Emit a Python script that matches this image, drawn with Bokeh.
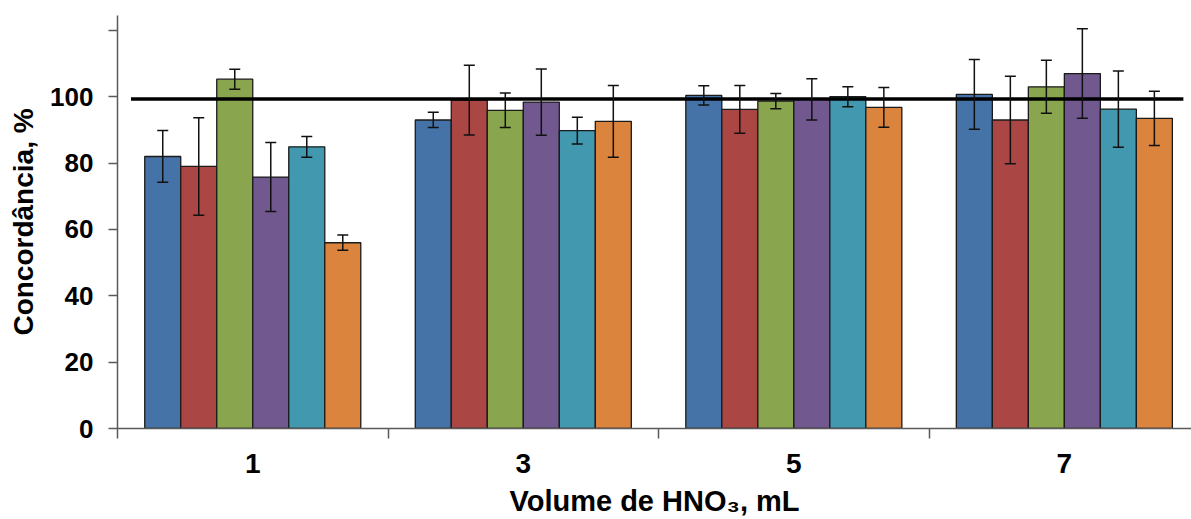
from bokeh.plotting import figure
from bokeh.models import Range1d, FixedTicker, ColumnDataSource, Whisker, TeeHead
from bokeh.embed import file_html
from bokeh.resources import INLINE

categories = ["1", "3", "5", "7"]
series_colors = ["#4572A7", "#AA4643", "#89A54E", "#71588F", "#4198AF", "#DB843D"]

s1_vals = [82.0, 93.0, 100.4, 100.7]
s1_err = [7.8, 2.3, 2.9, 10.5]
s2_vals = [79.0, 99.0, 96.2, 93.0]
s2_err = [14.7, 10.5, 7.2, 13.2]
s3_vals = [105.3, 95.9, 98.7, 103.0]
s3_err = [3.0, 5.2, 2.3, 8.0]
s4_vals = [75.8, 98.4, 99.2, 107.0]
s4_err = [10.4, 10.0, 6.2, 13.5]
s5_vals = [84.9, 89.8, 100.0, 96.3]
s5_err = [3.1, 4.0, 3.0, 11.5]
s6_vals = [56.0, 92.6, 96.8, 93.5]
s6_err = [2.3, 10.8, 6.0, 8.2]

ref_value = 99.3
ref_x = [0.05, 3.94]

y_ticks = [0, 20, 40, 60, 80, 100, 120]

all_vals = [s1_vals, s2_vals, s3_vals, s4_vals, s5_vals, s6_vals]
all_errs = [s1_err, s2_err, s3_err, s4_err, s5_err, s6_err]

FONT = "Liberation Sans"
AXIS_COLOR = "#5a5a5a"

p = figure(width=1191, height=519, output_backend="svg", toolbar_location=None,
           x_range=Range1d(0, 3.97), y_range=Range1d(0, 124.5),
           min_border_left=117, min_border_right=0, min_border_top=15,
           min_border_bottom=89)
p.outline_line_color = None
p.xgrid.visible = False
p.ygrid.visible = False
p.background_fill_color = "white"
p.border_fill_color = "white"

bar_w = 0.1331
centers = [i + 0.5 for i in range(len(categories))]

for k, (vals, errs) in enumerate(zip(all_vals, all_errs)):
    off = (k - 2.5) * bar_w
    xs = [c + off for c in centers]
    src = ColumnDataSource(dict(x=xs, top=vals))
    p.vbar(x="x", top="top", bottom=0, width=bar_w, source=src,
           fill_color=series_colors[k], line_color="#1a1a1a", line_width=1.3)

p.line(x=ref_x, y=[ref_value, ref_value], line_color="black", line_width=3.5)

for k, (vals, errs) in enumerate(zip(all_vals, all_errs)):
    off = (k - 2.5) * bar_w
    xs = [c + off for c in centers]
    src = ColumnDataSource(dict(x=xs,
                                lower=[v - e for v, e in zip(vals, errs)],
                                upper=[v + e for v, e in zip(vals, errs)]))
    w = Whisker(base="x", lower="lower", upper="upper", source=src,
                line_color="#111111", line_width=1.5, level="overlay",
                upper_head=TeeHead(size=11, line_color="#111111", line_width=1.5),
                lower_head=TeeHead(size=11, line_color="#111111", line_width=1.5))
    p.add_layout(w)

# y axis
p.yaxis.ticker = FixedTicker(ticks=y_ticks, minor_ticks=[])
p.yaxis.major_label_overrides = {120: ""}
p.yaxis.axis_line_color = AXIS_COLOR
p.yaxis.axis_line_width = 1.5
p.yaxis.major_tick_line_color = AXIS_COLOR
p.yaxis.major_tick_line_width = 1.5
p.yaxis.major_tick_out = 9
p.yaxis.major_tick_in = 0
p.yaxis.minor_tick_line_color = None
p.yaxis.major_label_standoff = 15
p.yaxis.major_label_text_font = FONT
p.yaxis.major_label_text_font_style = "bold"
p.yaxis.major_label_text_font_size = "26px"
p.yaxis.major_label_text_color = "black"
p.yaxis.axis_label = "Concordância, %"
p.yaxis.axis_label_text_font = FONT
p.yaxis.axis_label_text_font_style = "bold"
p.yaxis.axis_label_text_font_size = "28px"
p.yaxis.axis_label_text_color = "black"
p.yaxis.axis_label_standoff = 8

# x axis
p.xaxis.ticker = FixedTicker(ticks=centers, minor_ticks=[0, 1, 2, 3, 4])
p.xaxis.major_label_overrides = {c: lab for c, lab in zip(centers, categories)}
p.xaxis.axis_line_color = AXIS_COLOR
p.xaxis.axis_line_width = 1.5
p.xaxis.major_tick_line_color = None
p.xaxis.major_tick_out = 0
p.xaxis.major_tick_in = 0
p.xaxis.minor_tick_line_color = AXIS_COLOR
p.xaxis.minor_tick_line_width = 1.5
p.xaxis.minor_tick_out = 10
p.xaxis.minor_tick_in = 0
p.xaxis.major_label_standoff = 15
p.xaxis.major_label_text_font = FONT
p.xaxis.major_label_text_font_style = "bold"
p.xaxis.major_label_text_font_size = "28px"
p.xaxis.major_label_text_color = "black"
p.xaxis.axis_label = "Volume de HNO₃, mL"
p.xaxis.axis_label_text_font = FONT
p.xaxis.axis_label_text_font_style = "bold"
p.xaxis.axis_label_text_font_size = "29px"
p.xaxis.axis_label_text_color = "black"
p.xaxis.axis_label_standoff = 9

open("out.html", "w").write(file_html(p, INLINE))
